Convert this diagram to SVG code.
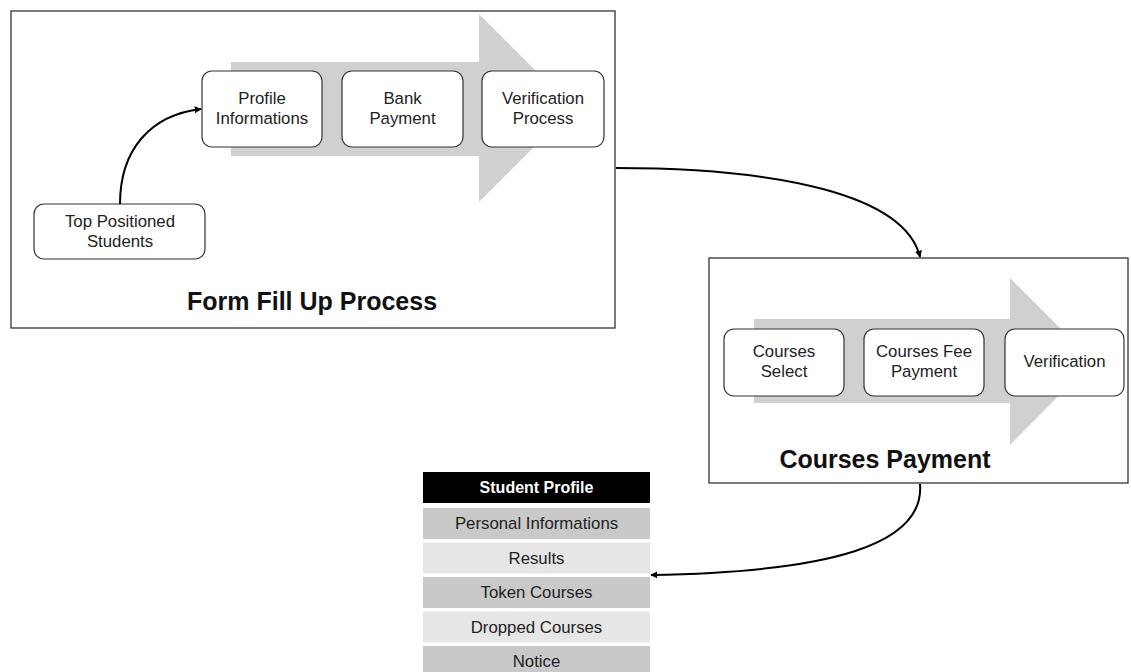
<svg xmlns="http://www.w3.org/2000/svg" width="1131" height="672" viewBox="0 0 1131 672">
<defs>
<marker id="ah" viewBox="0 0 10 10" refX="9" refY="5" markerWidth="7" markerHeight="7" markerUnits="userSpaceOnUse" orient="auto">
<path d="M0,0 L10,5 L0,10 z" fill="#000"/>
</marker>
<style>
.frame{fill:#fff;stroke:#333;stroke-width:1.3}
.node{fill:#fff;stroke:#333;stroke-width:1.2}
.band{fill:#d0d0d0}
.t{font-family:"Liberation Sans",Arial,sans-serif;font-size:16.8px;fill:#222;text-anchor:middle}
.title{font-family:"Liberation Sans",Arial,sans-serif;font-size:25px;font-weight:bold;fill:#111;text-anchor:middle}
.conn{fill:none;stroke:#000;stroke-width:2}
.rowA{fill:#c9c9c9}
.rowB{fill:#e6e6e6}
</style>
</defs>
<rect width="1131" height="672" fill="#fff"/>

<g id="form-fill-up-process">
<rect class="frame" x="11" y="11" width="604" height="317"/>
<path class="band" d="M231,62 H479 V14 L573,108 L479,202 V156 H231 z"/>
<text class="title" x="312" y="310">Form Fill Up Process</text>
</g>
<g id="top-positioned-students">
<rect class="node" x="34" y="204" width="171" height="55" rx="10"/>
<text class="t" x="120" y="227">Top Positioned</text>
<text class="t" x="120" y="247">Students</text>
</g>
<g id="profile-informations">
<rect class="node" x="202" y="71" width="120" height="76" rx="10"/>
<text class="t" x="262" y="104">Profile</text>
<text class="t" x="262" y="124">Informations</text>
</g>
<g id="bank-payment">
<rect class="node" x="342" y="71" width="121" height="76" rx="10"/>
<text class="t" x="402.5" y="104">Bank</text>
<text class="t" x="402.5" y="124">Payment</text>
</g>
<g id="verification-process">
<rect class="node" x="482" y="71" width="122" height="76" rx="10"/>
<text class="t" x="543" y="104">Verification</text>
<text class="t" x="543" y="124">Process</text>
</g>

<g id="courses-payment">
<rect class="frame" x="709" y="258" width="419" height="225"/>
<path class="band" d="M754,319 H1010 V278 L1093,361 L1010,445 V403 H754 z"/>
<text class="title" x="885" y="468">Courses Payment</text>
</g>
<g id="courses-select">
<rect class="node" x="724" y="329" width="120" height="67" rx="10"/>
<text class="t" x="784" y="357">Courses</text>
<text class="t" x="784" y="377">Select</text>
</g>
<g id="courses-fee-payment">
<rect class="node" x="864" y="329" width="120" height="67" rx="10"/>
<text class="t" x="924" y="357">Courses Fee</text>
<text class="t" x="924" y="377">Payment</text>
</g>
<g id="verification">
<rect class="node" x="1005" y="329" width="119" height="67" rx="10"/>
<text class="t" x="1064.5" y="367">Verification</text>
</g>

<g id="student-profile">
<rect x="423" y="472" width="227" height="31" fill="#000"/>
<text class="t" x="536.5" y="493" style="font-weight:bold;fill:#fff;font-size:16px">Student Profile</text>
<rect class="rowA" x="423" y="508" width="227" height="31"/>
<text class="t" x="536.5" y="529">Personal Informations</text>
<rect class="rowB" x="423" y="542.5" width="227" height="31"/>
<text class="t" x="536.5" y="564">Results</text>
<rect class="rowA" x="423" y="577" width="227" height="31"/>
<text class="t" x="536.5" y="598">Token Courses</text>
<rect class="rowB" x="423" y="611.5" width="227" height="31"/>
<text class="t" x="536.5" y="633">Dropped Courses</text>
<rect class="rowA" x="423" y="646" width="227" height="31"/>
<text class="t" x="536.5" y="667">Notice</text>
</g>

<g id="connectors">
<path class="conn" d="M120,204 C120,150 150,115 201,109" marker-end="url(#ah)"/>
<path class="conn" d="M616,168 C780,168 905,195 920,257" marker-end="url(#ah)"/>
<path class="conn" d="M920,484 C925,545 830,572 651,575" marker-end="url(#ah)"/>
</g>
</svg>
